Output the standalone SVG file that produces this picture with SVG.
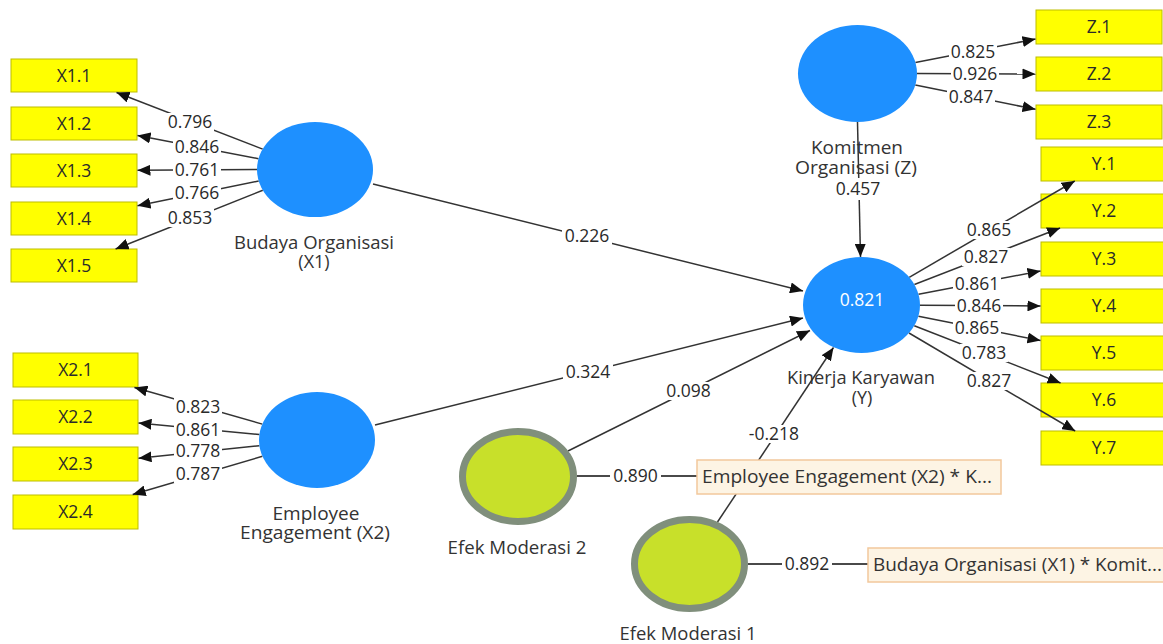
<svg xmlns="http://www.w3.org/2000/svg" width="1163" height="644" viewBox="0 0 1163 644">
<style>
.t{font-family:"Open Sans","Noto Sans","DejaVu Sans",sans-serif;font-size:17.5px;fill:#2a2a2a;text-anchor:middle}
.nl{font-size:18px;fill:#333}
.ind rect{fill:#ffff00;stroke:#bdbd00;stroke-width:1}
.cl{stroke:#333;stroke-width:1.5;fill:none;marker-end:url(#ah)}
.ml{stroke:#4a4a4a;stroke-width:2;fill:none}
.lb{fill:#fff}
.lat{fill:#1e90ff}
.mod{fill:#c8e02a;stroke:#808f7c;stroke-width:7}
.ob{fill:#fdf4e4;stroke:#f2c89c;stroke-width:1.5}
.st{text-anchor:start}
</style>
<defs>
<marker id="ah" markerUnits="userSpaceOnUse" markerWidth="14" markerHeight="11" refX="13" refY="5.5" orient="auto">
<path d="M0,0 L13,5.5 L0,11 Z" fill="#111"/>
</marker>
</defs>
<rect width="1163" height="644" fill="#fff"/>

<g id="X1.1" class="ind"><rect x="11" y="59" width="126" height="33"/><text class="t" x="74" y="81.5">X1.1</text></g>
<g id="X1.2" class="ind"><rect x="11" y="107" width="126" height="33"/><text class="t" x="74" y="129.5">X1.2</text></g>
<g id="X1.3" class="ind"><rect x="11" y="154" width="126" height="33"/><text class="t" x="74" y="176.5">X1.3</text></g>
<g id="X1.4" class="ind"><rect x="11" y="202" width="126" height="33"/><text class="t" x="74" y="224.5">X1.4</text></g>
<g id="X1.5" class="ind"><rect x="11" y="249" width="126" height="33"/><text class="t" x="74" y="271.5">X1.5</text></g>

<g id="X2.1" class="ind"><rect x="13" y="353" width="125" height="34"/><text class="t" x="75.5" y="376">X2.1</text></g>
<g id="X2.2" class="ind"><rect x="13" y="400" width="125" height="34"/><text class="t" x="75.5" y="423">X2.2</text></g>
<g id="X2.3" class="ind"><rect x="13" y="447" width="125" height="34"/><text class="t" x="75.5" y="470">X2.3</text></g>
<g id="X2.4" class="ind"><rect x="13" y="495" width="125" height="34"/><text class="t" x="75.5" y="518">X2.4</text></g>

<g id="Z.1" class="ind"><rect x="1036" y="10" width="126" height="34"/><text class="t" x="1099" y="33">Z.1</text></g>
<g id="Z.2" class="ind"><rect x="1036" y="57" width="126" height="34"/><text class="t" x="1099" y="80">Z.2</text></g>
<g id="Z.3" class="ind"><rect x="1036" y="105" width="126" height="34"/><text class="t" x="1099" y="128">Z.3</text></g>

<g id="Y.1" class="ind"><rect x="1041" y="147" width="126" height="34"/><text class="t" x="1104" y="170">Y.1</text></g>
<g id="Y.2" class="ind"><rect x="1041" y="194" width="126" height="34"/><text class="t" x="1104" y="217">Y.2</text></g>
<g id="Y.3" class="ind"><rect x="1041" y="242" width="126" height="34"/><text class="t" x="1104" y="265">Y.3</text></g>
<g id="Y.4" class="ind"><rect x="1041" y="289" width="126" height="34"/><text class="t" x="1104" y="312">Y.4</text></g>
<g id="Y.5" class="ind"><rect x="1041" y="336" width="126" height="34"/><text class="t" x="1104" y="359">Y.5</text></g>
<g id="Y.6" class="ind"><rect x="1041" y="383" width="126" height="34"/><text class="t" x="1104" y="406">Y.6</text></g>
<g id="Y.7" class="ind"><rect x="1041" y="431" width="126" height="34"/><text class="t" x="1104" y="454">Y.7</text></g>

<g id="connectors">
<line class="cl" x1="262.7" y1="149.1" x2="116.5" y2="92.5"/>
<line class="cl" x1="258.5" y1="158.7" x2="137.5" y2="135.5"/>
<line class="cl" x1="257" y1="169.5" x2="137.5" y2="170.3"/>
<line class="cl" x1="258.7" y1="181" x2="137.5" y2="205.7"/>
<line class="cl" x1="262.8" y1="190.3" x2="115.6" y2="249"/>
<rect class="lb" x="166" y="113" width="48" height="18"/><text class="t" x="190" y="128">0.796</text>
<rect class="lb" x="173" y="138" width="48" height="18"/><text class="t" x="197" y="153">0.846</text>
<rect class="lb" x="173" y="160.5" width="48" height="18"/><text class="t" x="197" y="175.5">0.761</text>
<rect class="lb" x="173" y="184" width="48" height="18"/><text class="t" x="197" y="199">0.766</text>
<rect class="lb" x="166" y="209" width="48" height="18"/><text class="t" x="190" y="224">0.853</text>
<line class="cl" x1="262.3" y1="424.1" x2="134.4" y2="387.5"/>
<line class="cl" x1="259.4" y1="434.5" x2="138.5" y2="423"/>
<line class="cl" x1="259.4" y1="445.7" x2="138.5" y2="458.2"/>
<line class="cl" x1="262.4" y1="456.3" x2="132.7" y2="494.5"/>
<rect class="lb" x="174" y="398" width="48" height="18"/><text class="t" x="198" y="413">0.823</text>
<rect class="lb" x="174" y="420.5" width="48" height="18"/><text class="t" x="198" y="435.5">0.861</text>
<rect class="lb" x="174" y="442" width="48" height="18"/><text class="t" x="198" y="457">0.778</text>
<rect class="lb" x="174" y="465" width="48" height="18"/><text class="t" x="198" y="480">0.787</text>
<line class="cl" x1="915.4" y1="62.4" x2="1035.5" y2="39.1"/>
<line class="cl" x1="917" y1="73.6" x2="1035.5" y2="74"/>
<line class="cl" x1="915.3" y1="85.1" x2="1035.5" y2="109.3"/>
<rect class="lb" x="949" y="43" width="48" height="18"/><text class="t" x="973" y="58">0.825</text>
<rect class="lb" x="951" y="65" width="48" height="18"/><text class="t" x="975" y="80">0.926</text>
<rect class="lb" x="947" y="88" width="48" height="18"/><text class="t" x="971" y="103">0.847</text>
<line class="cl" x1="909.2" y1="277.3" x2="1074.8" y2="181"/>
<line class="cl" x1="914.4" y1="284.5" x2="1060.1" y2="228"/>
<line class="cl" x1="918.5" y1="294.2" x2="1040.5" y2="271"/>
<line class="cl" x1="920" y1="305.2" x2="1040.5" y2="306"/>
<line class="cl" x1="918.4" y1="316.3" x2="1040.5" y2="340.5"/>
<line class="cl" x1="914.3" y1="325.7" x2="1060.6" y2="383"/>
<line class="cl" x1="909" y1="333" x2="1075.2" y2="431"/>
<rect class="lb" x="965" y="221" width="48" height="18"/><text class="t" x="989" y="236">0.865</text>
<rect class="lb" x="962" y="248" width="48" height="18"/><text class="t" x="986" y="263">0.827</text>
<rect class="lb" x="953" y="274.5" width="48" height="18"/><text class="t" x="977" y="289.5">0.861</text>
<rect class="lb" x="955" y="296.5" width="48" height="18"/><text class="t" x="979" y="311.5">0.846</text>
<rect class="lb" x="953" y="319" width="48" height="18"/><text class="t" x="977" y="334">0.865</text>
<rect class="lb" x="960" y="344" width="48" height="18"/><text class="t" x="984" y="359">0.783</text>
<rect class="lb" x="965" y="372" width="48" height="18"/><text class="t" x="989" y="387">0.827</text>
<line class="cl" x1="373" y1="184" x2="803" y2="291"/>
<line class="cl" x1="375" y1="425" x2="803" y2="318"/>
<line class="cl" x1="568" y1="451" x2="810" y2="330.5"/>
<line class="cl" x1="717.5" y1="522" x2="833.5" y2="347.5"/>
<line class="cl" x1="857.5" y1="122" x2="860.5" y2="257"/>
<rect class="lb" x="562" y="227" width="50" height="18"/><text class="t" x="587" y="242">0.226</text>
<rect class="lb" x="563" y="363" width="50" height="18"/><text class="t" x="588" y="378">0.324</text>
<rect class="lb" x="664" y="382" width="50" height="18"/><text class="t" x="688.5" y="397">0.098</text>
<rect class="lb" x="744" y="425" width="60" height="18"/><text class="t" x="774" y="440">-0.218</text>
<line class="ml" x1="577" y1="476" x2="697" y2="476"/>
<line class="ml" x1="748" y1="564" x2="868" y2="564"/>
<rect class="lb" x="610" y="467" width="51" height="18"/><text class="t" x="635.5" y="482">0.890</text>
<rect class="lb" x="782" y="555" width="50" height="18"/><text class="t" x="807" y="570">0.892</text>
</g>

<g id="BudayaOrganisasi">
<ellipse class="lat" cx="315" cy="169.5" rx="58" ry="47.5"/>
<text class="t nl"><tspan x="314" y="249" textLength="160" lengthAdjust="spacingAndGlyphs">Budaya Organisasi</tspan><tspan x="314" y="268">(X1)</tspan></text>
</g>
<g id="EmployeeEngagement">
<ellipse class="lat" cx="317" cy="440" rx="58" ry="48"/>
<text class="t nl"><tspan x="316" y="520" textLength="87" lengthAdjust="spacingAndGlyphs">Employee</tspan><tspan x="315" y="539" textLength="150" lengthAdjust="spacingAndGlyphs">Engagement (X2)</tspan></text>
</g>
<g id="KomitmenOrganisasi">
<ellipse class="lat" cx="857.5" cy="73.5" rx="59.5" ry="48.5"/>
<rect class="lb" x="837" y="178" width="42" height="22"/>
<text class="t nl"><tspan x="857" y="154" textLength="92" lengthAdjust="spacingAndGlyphs">Komitmen</tspan><tspan x="856" y="174" textLength="122" lengthAdjust="spacingAndGlyphs">Organisasi (Z)</tspan><tspan x="858" y="195" style="font-size:17.5px;fill:#2a2a2a">0.457</tspan></text>
</g>
<g id="KinerjaKaryawan">
<ellipse class="lat" cx="861.5" cy="305" rx="58.5" ry="48"/>
<text class="t" x="862" y="306" style="fill:#fff">0.821</text>
<text class="t nl"><tspan x="861" y="384" textLength="148" lengthAdjust="spacingAndGlyphs">Kinerja Karyawan</tspan><tspan x="862" y="404">(Y)</tspan></text>
</g>
<g id="EfekModerasi2">
<ellipse class="mod" cx="518" cy="476.5" rx="55.5" ry="45"/>
<text class="t nl" x="517" y="554" textLength="139" lengthAdjust="spacingAndGlyphs">Efek Moderasi 2</text>
</g>
<g id="EfekModerasi1">
<ellipse class="mod" cx="689.5" cy="564" rx="55" ry="44.5"/>
<text class="t nl" x="688" y="640" textLength="137" lengthAdjust="spacingAndGlyphs">Efek Moderasi 1</text>
</g>
<g id="EE_x_KO">
<rect class="ob" x="697" y="460" width="304" height="34"/>
<text class="t nl st" x="702" y="483" textLength="290" lengthAdjust="spacingAndGlyphs">Employee Engagement (X2) * K...</text>
</g>
<g id="BO_x_KO">
<rect class="ob" x="868" y="548" width="310" height="34"/>
<text class="t nl st" x="873" y="571" textLength="289" lengthAdjust="spacingAndGlyphs">Budaya Organisasi (X1) * Komit...</text>
</g>
</svg>
